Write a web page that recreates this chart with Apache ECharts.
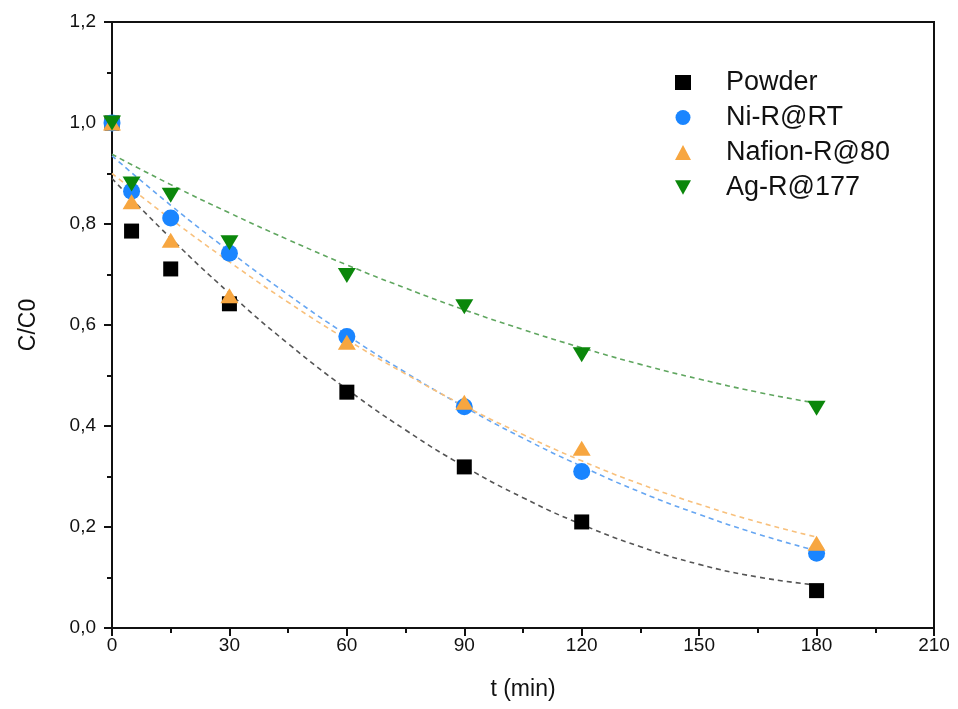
<!DOCTYPE html>
<html>
<head>
<meta charset="utf-8">
<script src="https://cdn.jsdelivr.net/npm/echarts@6/dist/echarts.min.js"></script>
<style>
  html, body { margin: 0; padding: 0; background: #fff; }
  #chart { width: 958px; height: 709px; }
</style>
</head>
<body>
<div id="chart"></div>
<script>
// Sampling times (min)
const times = [0, 5, 15, 30, 60, 90, 120, 180];

// Measured C/C0 for each sample
const powder   = [1.0, 0.786, 0.711, 0.642, 0.467, 0.319, 0.210, 0.074];
const niRRT    = [1.0, 0.865, 0.812, 0.742, 0.577, 0.438, 0.310, 0.148];
const nafionR  = [1.0, 0.844, 0.768, 0.658, 0.566, 0.447, 0.356, 0.168];
const agR177   = [1.0, 0.879, 0.857, 0.763, 0.698, 0.636, 0.541, 0.435];

// Fitted trend curves, sampled every 15 min
const fitTimes   = [0, 15, 30, 45, 60, 75, 90, 105, 120, 135, 150, 165, 180];
const powderFit  = [0.890, 0.772, 0.663, 0.563, 0.473, 0.392, 0.320, 0.258, 0.205, 0.161, 0.126, 0.101, 0.085];
const niRRTFit   = [0.935, 0.837, 0.746, 0.660, 0.580, 0.506, 0.438, 0.376, 0.320, 0.269, 0.225, 0.186, 0.153];
const nafionFit  = [0.900, 0.810, 0.725, 0.645, 0.571, 0.503, 0.440, 0.383, 0.331, 0.285, 0.245, 0.210, 0.180];
const agR177Fit  = [0.938, 0.878, 0.822, 0.769, 0.719, 0.673, 0.630, 0.591, 0.555, 0.522, 0.493, 0.467, 0.445];

// Axis ticks
const xTicks = [0, 30, 60, 90, 120, 150, 180, 210];
const yTicks = [0.0, 0.2, 0.4, 0.6, 0.8, 1.0, 1.2];

const seriesNames = ['Powder', 'Ni-R@RT', 'Nafion-R@80', 'Ag-R@177'];
const measured = [powder, niRRT, nafionR, agR177];
const fitted = [powderFit, niRRTFit, nafionFit, agR177Fit];

const markerColors = ['#000000', '#1a85ff', '#f7a640', '#0b870b'];
const fitColors = ['#555555', '#66a6f2', '#f8c07c', '#5fa65f'];
const triDown = 'path://M0,0 L10,0 L5,9 Z';
const symbols = ['rect', 'circle', 'triangle', triDown];
const symbolSizes = [15, 17, [18, 15], [18, 15]];

const pair = (xs, ys) => xs.map((x, i) => [x, ys[i]]);
const font = 'Liberation Sans, Arial, sans-serif';

const series = [];
fitted.forEach((ys, i) => {
  series.push({
    name: seriesNames[i] + ' fit',
    type: 'line',
    data: pair(fitTimes, ys),
    smooth: true,
    showSymbol: false,
    silent: true,
    z: 1,
    lineStyle: { color: fitColors[i], width: 1.6, type: [5, 4] }
  });
});
measured.forEach((ys, i) => {
  series.push({
    name: seriesNames[i],
    type: 'scatter',
    data: pair(times, ys),
    symbol: symbols[i],
    symbolSize: symbolSizes[i],
    z: 3 + i,
    itemStyle: { color: markerColors[i], opacity: 1 }
  });
});

const chart = echarts.init(document.getElementById('chart'), null, { renderer: 'canvas' });
chart.setOption({
  animation: false,
  backgroundColor: '#ffffff',
  textStyle: { fontFamily: font },
  grid: { left: 112, right: 24, top: 22, bottom: 81, show: true, borderColor: '#111', borderWidth: 2, backgroundColor: 'transparent' },
  legend: {
    data: seriesNames,
    orient: 'vertical',
    left: 670,
    top: 64,
    padding: 5,
    itemWidth: 16,
    itemHeight: 15,
    itemGap: 8,
    textStyle: { fontSize: 27, color: '#111', fontFamily: font, padding: [0, 0, 0, 30], lineHeight: 27 }
  },
  xAxis: {
    type: 'value',
    min: xTicks[0],
    max: xTicks[xTicks.length - 1],
    interval: xTicks[1] - xTicks[0],
    name: 't (min)',
    nameLocation: 'middle',
    nameGap: 50,
    nameTextStyle: { fontSize: 23, color: '#111', fontFamily: font },
    axisLine: { show: true, onZero: false, lineStyle: { color: '#111', width: 2 } },
    axisTick: { show: true, inside: false, length: 8, lineStyle: { color: '#111', width: 2 } },
    minorTick: { show: true, splitNumber: 2, length: 5, lineStyle: { color: '#111', width: 2 } },
    splitLine: { show: false },
    axisLabel: { fontSize: 19, color: '#111', margin: 8, fontFamily: font }
  },
  yAxis: {
    type: 'value',
    min: yTicks[0],
    max: yTicks[yTicks.length - 1],
    interval: 0.2,
    name: 'C/C0',
    nameLocation: 'middle',
    nameGap: 72,
    nameTextStyle: { fontSize: 23, color: '#111', fontFamily: font },
    axisLine: { show: true, onZero: false, lineStyle: { color: '#111', width: 2 } },
    axisTick: { show: true, inside: false, length: 8, lineStyle: { color: '#111', width: 2 } },
    minorTick: { show: true, splitNumber: 2, length: 5, lineStyle: { color: '#111', width: 2 } },
    splitLine: { show: false },
    axisLabel: {
      fontSize: 19, color: '#111', margin: 16, fontFamily: font,
      formatter: v => v.toFixed(1).replace('.', ',')
    }
  },
  series: series
});
</script>
</body>
</html>
